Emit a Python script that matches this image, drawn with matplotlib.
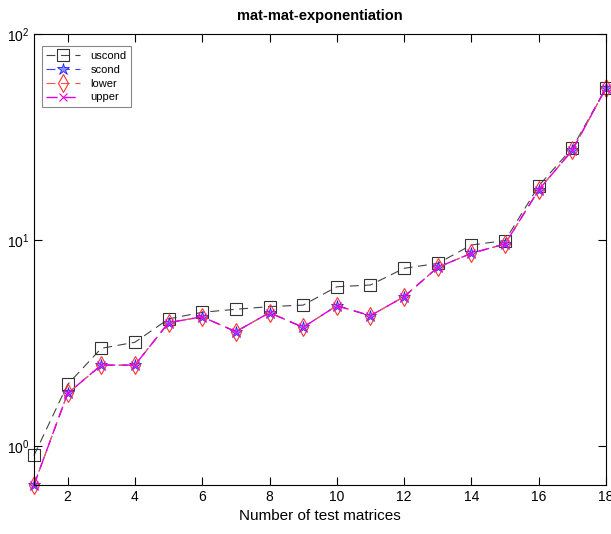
import matplotlib
matplotlib.use("Agg")
import matplotlib.pyplot as plt
import numpy as np

plt.rcParams.update({
    "font.family": ["Liberation Sans", "DejaVu Sans"],
    "xtick.direction": "in",
    "ytick.direction": "in",
    "xtick.top": True,
    "ytick.right": True,
})

# ── Datos ───────────────────────────────────────────────────────────────────
test_ids = list(range(1, 19))
uscond = [0.90, 1.99, 2.98, 3.19, 4.14, 4.46, 4.61, 4.75, 4.83,
          5.93, 6.05, 7.29, 7.70, 9.46, 9.94, 18.3, 28.0, 54.7]
scond = [0.647, 1.80, 2.47, 2.47, 3.97, 4.24, 3.59, 4.44, 3.77,
         4.80, 4.29, 5.31, 7.37, 8.62, 9.57, 17.5, 27.3, 54.7]
lower = [0.647, 1.80, 2.47, 2.47, 3.97, 4.24, 3.59, 4.44, 3.77,
         4.80, 4.29, 5.31, 7.37, 8.62, 9.57, 17.5, 27.3, 54.7]
upper = [0.647, 1.80, 2.47, 2.47, 3.97, 4.24, 3.59, 4.44, 3.77,
         4.80, 4.29, 5.31, 7.37, 8.62, 9.57, 17.5, 27.3, 54.7]

fig = plt.figure(figsize=(6.11, 5.34), dpi=100)
ax = fig.add_axes([0.0556, 0.0918, 0.9362, 0.8445])

dash = (0, (8, 5))
ax.plot(test_ids, uscond, color="#444444", ls=dash, lw=0.8, marker="s",
        ms=8, mfc="none", mec="#333333", mew=0.8, label="uscond", clip_on=False)
ax.plot(test_ids, scond, color="#4040ff", ls=dash, lw=0.8, marker="*",
        ms=9, mfc="#9090ff", mec="#2020ff", mew=0.6, label="scond", clip_on=False)
ax.plot(test_ids, lower, color="#ff5050", ls=dash, lw=0.8, marker="d",
        ms=9, mfc="none", mec="#ff3030", mew=0.8, label="lower", clip_on=False)
ax.plot(test_ids, upper, color="#e000e0", ls=dash, lw=1.0, marker="x",
        ms=6, mec="#e000e0", mew=0.8, label="upper", clip_on=False)

ax.set_yscale("log")
ax.set_xlim(1, 18)
ax.set_ylim(0.647, 100)
ax.set_xticks(range(2, 19, 2))
ax.yaxis.set_minor_locator(matplotlib.ticker.NullLocator())
ax.tick_params(labelsize=10, length=6, width=0.8)

ax.set_title("mat-mat-exponentiation", fontsize=10.5, fontweight="bold", pad=10)
ax.set_xlabel("Number of test matrices", fontsize=11)

leg = ax.legend(loc="upper left", fontsize=8, fancybox=False,
                edgecolor="#888888", framealpha=1,
                bbox_to_anchor=(0.004, 0.985),
                handlelength=3.0, labelspacing=0.35, borderpad=0.4,
                handletextpad=1.0)
leg.get_frame().set_linewidth(0.8)

fig.savefig("out.png", dpi=100)
